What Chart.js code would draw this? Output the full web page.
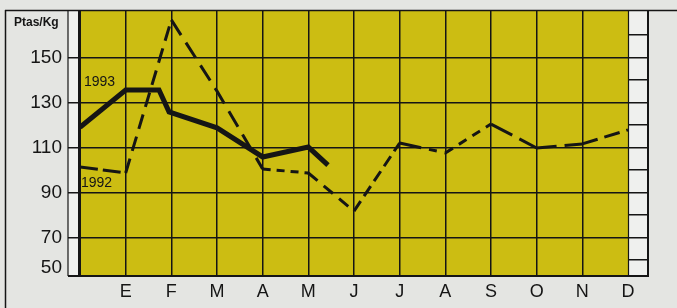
<!DOCTYPE html>
<html>
<head>
<meta charset="utf-8">
<script src="https://cdn.jsdelivr.net/npm/chart.js@4"></script>
<style>
  body { margin: 0; background: #e4e5e2; }
  canvas { display: block; }
</style>
</head>
<body>
<canvas id="priceChart" width="677" height="308"></canvas>
<script>
// months on the x axis (index 0 is the start of the year)
const months = ["", "E", "F", "M", "A", "M", "J", "J", "A", "S", "O", "N", "D"];
const yLabels = [50, 70, 90, 110, 130, 150];
const yMinorTicks = [60, 70, 80, 90, 100, 110, 120, 130, 140, 150, 160];

const x1993 = [0, 1, 1.73, 1.95, 3, 4, 5, 5.43];
const v1993 = [119, 135.5, 135.5, 125.8, 118.7, 105.8, 110.2, 102.2];

const x1992 = [0, 1, 2, 3, 4, 5, 6, 7, 8, 9, 10, 11, 12];
const v1992 = [101.4, 98.7, 166.6, 135, 100.5, 98.7, 81.8, 112, 107.6, 120.4, 109.8, 111.6, 117.8];

const ink = "#151515";
const clear = "rgba(0,0,0,0)";
const yMin = 53;
const yMax = 171;
const bottomLabelAt = 56.5; // the "50" label sits a little above the base line
const majorLines = [70, 90, 110, 130, 150];
const dashBySegment = [
  [18, 5], [15, 8], [18, 9], [18, 9], [8, 6], [12, 8],
  [12, 6], [22, 8, 8, 8], [9, 7], [24, 8], [20, 8], [16, 7],
];

function toPoints(xs, ys) {
  return xs.map((x, i) => ({ x, y: ys[i] }));
}

function noLabelPadding(scale) {
  scale.paddingTop = 0;
  scale.paddingBottom = 0;
  scale.paddingLeft = 0;
  scale.paddingRight = 0;
}

const frame = {
  id: "frame",
  beforeDraw(chart) {
    const { ctx, chartArea: a, width, height } = chart;
    ctx.save();
    ctx.fillStyle = "#e4e5e2";
    ctx.fillRect(0, 0, width, height);
    ctx.fillStyle = "#ccbd12";
    ctx.fillRect(a.left, a.top, a.right - a.left, a.bottom - a.top);
    ctx.fillStyle = "#eff0ee";
    ctx.fillRect(a.left - 12, a.top, 12, a.bottom - a.top);
    ctx.fillRect(a.right, a.top, 20, a.bottom - a.top);
    ctx.restore();
  },
  afterDraw(chart) {
    const { ctx, chartArea: a, width, height } = chart;
    const x = chart.scales.x;
    const y = chart.scales.y;
    ctx.save();
    ctx.strokeStyle = ink;

    function line(x1, y1, x2, y2, w) {
      ctx.lineWidth = w;
      ctx.beginPath();
      ctx.moveTo(x1, y1);
      ctx.lineTo(x2, y2);
      ctx.stroke();
    }

    line(5.5, a.top, 5.5, height, 1.5);
    line(5, a.top + 0.5, width, a.top + 0.5, 1.5);
    line(a.left - 12, a.top, a.left - 12, a.bottom, 1.2);
    line(a.left - 0.5, a.top, a.left - 0.5, a.bottom, 3);
    line(a.right + 0.5, a.top, a.right + 0.5, a.bottom, 1.2);
    line(a.right + 20, a.top, a.right + 20, a.bottom + 1, 2);
    line(a.left - 12, a.bottom, a.right + 20, a.bottom, 2);

    ctx.fillStyle = ink;
    ctx.textBaseline = "middle";
    ctx.textAlign = "left";
    ctx.font = "bold 12px 'Liberation Sans', Arial, sans-serif";
    ctx.fillText("Ptas/Kg", 14, 23);
    ctx.font = "14px 'Liberation Sans', Arial, sans-serif";
    ctx.fillText("1993", x.getPixelForValue(0) + 4, y.getPixelForValue(139));
    ctx.fillText("1992", x.getPixelForValue(0) + 1, y.getPixelForValue(94.3));
    ctx.restore();
  },
};

new Chart(document.getElementById("priceChart"), {
  type: "line",
  data: {
    datasets: [
      {
        label: "1993",
        data: toPoints(x1993, v1993),
        borderColor: ink,
        borderWidth: 5,
        pointRadius: 0,
        tension: 0,
      },
      {
        label: "1992",
        data: toPoints(x1992, v1992),
        borderColor: ink,
        borderWidth: 3,
        pointRadius: 0,
        tension: 0,
        segment: {
          borderDash: (ctx) => dashBySegment[ctx.p0DataIndex],
        },
      },
    ],
  },
  options: {
    responsive: false,
    animation: false,
    layout: { padding: { top: 10, left: 0, right: 0, bottom: 0 } },
    plugins: {
      legend: { display: false },
      tooltip: { enabled: false },
    },
    scales: {
      x: {
        type: "linear",
        min: 0,
        max: 12,
        afterBuildTicks: (scale) => {
          scale.ticks = months.map((_, i) => ({ value: i }));
        },
        afterFit: (scale) => {
          scale.height = 32;
          noLabelPadding(scale);
        },
        ticks: {
          callback: (value) => months[value],
          color: ink,
          font: { family: "'Liberation Sans', Arial, sans-serif", size: 18 },
          padding: 5,
          autoSkip: false,
          maxRotation: 0,
        },
        grid: {
          color: (ctx) => (ctx.tick && ctx.tick.value > 0 && ctx.tick.value < 12 ? ink : clear),
          lineWidth: 1.5,
          drawTicks: false,
        },
        border: { display: false },
      },
      y: {
        min: yMin,
        max: yMax,
        afterBuildTicks: (scale) => {
          scale.ticks = [bottomLabelAt, ...yMinorTicks].map((value) => ({ value }));
        },
        afterFit: (scale) => {
          scale.width = 80;
          noLabelPadding(scale);
        },
        ticks: {
          callback: (value) => {
            if (value === bottomLabelAt) {
              return String(yLabels[0]);
            }
            return yLabels.includes(value) ? String(value) : "";
          },
          color: ink,
          font: { family: "'Liberation Sans', Arial, sans-serif", size: 19 },
          padding: 6,
        },
        grid: {
          color: (ctx) => (ctx.tick && majorLines.includes(ctx.tick.value) ? ink : clear),
          tickColor: (ctx) => (ctx.tick && ctx.tick.value === bottomLabelAt ? clear : ink),
          lineWidth: 1.5,
          tickLength: 12,
        },
        border: { display: false },
      },
      y2: {
        position: "right",
        min: yMin,
        max: yMax,
        afterBuildTicks: (scale) => {
          scale.ticks = yMinorTicks.map((value) => ({ value }));
        },
        afterFit: (scale) => {
          scale.width = 49;
          noLabelPadding(scale);
        },
        ticks: {
          callback: () => "",
        },
        grid: {
          drawOnChartArea: false,
          tickColor: ink,
          lineWidth: 1.5,
          tickLength: 20,
        },
        border: { display: false },
      },
    },
  },
  plugins: [frame],
});
</script>
</body>
</html>
